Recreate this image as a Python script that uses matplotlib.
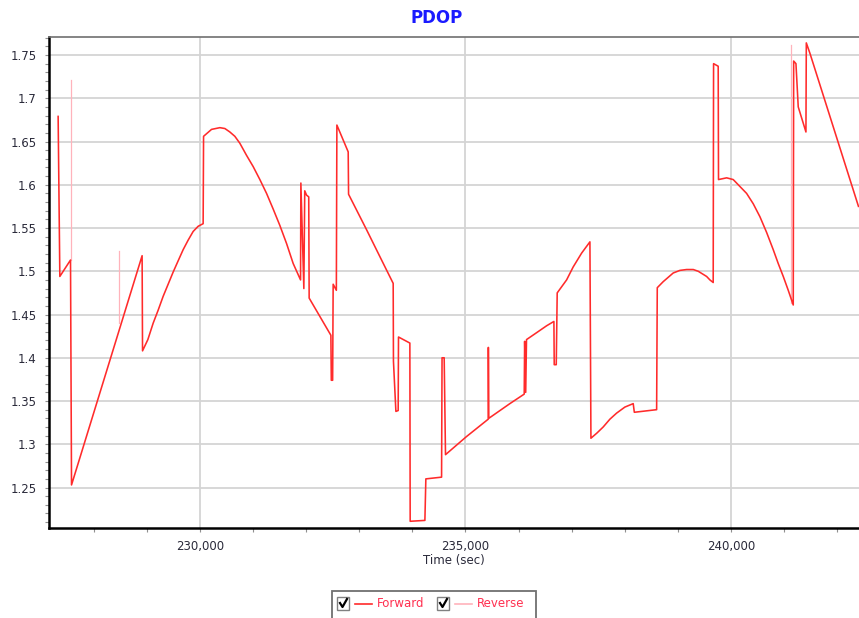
import numpy as np
import matplotlib.pyplot as plt
from matplotlib.ticker import MultipleLocator, FuncFormatter
from matplotlib.lines import Line2D
from matplotlib.patches import Rectangle

# forward solution PDOP
fwd_t = [227332, 227364, 227565, 227584, 228913, 228921, 229021, 229121, 229215,
         229309, 229403, 229497, 229591, 229686, 229780, 229874, 229968, 230062,
         230070, 230220, 230377, 230471, 230565, 230659, 230753, 230879, 231004,
         231130, 231256, 231380, 231506, 231633, 231757, 231896, 231902, 231958,
         231975, 232009, 232050, 232058, 232467, 232475, 232500, 232510, 232570,
         232580, 232793, 232800, 233139, 233389, 233640, 233645, 233691, 233734,
         233740, 233954, 233960, 234237, 234255, 234551, 234560, 234600, 234625,
         235022, 235429, 235432, 235440, 235837, 236107, 236115, 236135, 236150,
         236340, 236529, 236666, 236672, 236710, 236728, 236905, 237029, 237188,
         237344, 237363, 237476, 237594, 237720, 237846, 238002, 238159, 238180,
         238600, 238612, 238724, 238912, 239038, 239165, 239290, 239383, 239541,
         239603, 239665, 239672, 239759, 239765, 239918, 240042, 240168, 240294,
         240419, 240545, 240670, 240795, 240889, 240984, 241078, 241172, 241180,
         241223, 241266, 241411, 241418, 241486, 242400]
fwd_v = [1.679, 1.494, 1.513, 1.253, 1.518, 1.408, 1.421, 1.440, 1.455,
         1.471, 1.485, 1.499, 1.512, 1.525, 1.536, 1.546, 1.552, 1.555,
         1.656, 1.664, 1.666, 1.665, 1.661, 1.656, 1.648, 1.634, 1.621,
         1.606, 1.590, 1.572, 1.553, 1.532, 1.509, 1.490, 1.602, 1.480,
         1.593, 1.588, 1.586, 1.469, 1.426, 1.374, 1.374, 1.485, 1.478,
         1.669, 1.638, 1.589, 1.548, 1.517, 1.486, 1.396, 1.338, 1.339,
         1.424, 1.417, 1.211, 1.212, 1.260, 1.262, 1.400, 1.400, 1.288,
         1.309, 1.329, 1.412, 1.330, 1.347, 1.358, 1.419, 1.360, 1.421,
         1.429, 1.437, 1.442, 1.392, 1.392, 1.475, 1.490, 1.505, 1.521,
         1.534, 1.307, 1.313, 1.320, 1.329, 1.336, 1.343, 1.347, 1.337,
         1.340, 1.481, 1.488, 1.498, 1.501, 1.502, 1.502, 1.500, 1.494,
         1.490, 1.487, 1.740, 1.737, 1.606, 1.608, 1.606, 1.598, 1.590,
         1.578, 1.563, 1.545, 1.525, 1.509, 1.494, 1.478, 1.461, 1.743,
         1.740, 1.690, 1.661, 1.764, 1.752, 1.575]

# reverse solution: only visible where it differs from forward
rev_t = [227565, 227565, np.nan, 228480, 228480, np.nan, 241123, 241123]
rev_v = [1.513, 1.721, np.nan, 1.440, 1.523, np.nan, 1.463, 1.762]

W, H = 859, 618
fig = plt.figure(figsize=(W / 100, H / 100), dpi=100)
ax = fig.add_axes([49 / W, 1 - 527.5 / H, 1 - 49 / W, (527.5 - 37) / H])

ax.plot(rev_t, rev_v, color='#ffb3bb', lw=0.9, zorder=2)
ax.plot(fwd_t, fwd_v, color='#ff2b2b', lw=1.15, zorder=3)

ax.set_xlim(227160, 242410)
ax.set_ylim(1.2038, 1.7708)
ax.xaxis.set_major_locator(MultipleLocator(5000))
ax.xaxis.set_minor_locator(MultipleLocator(1000))
ax.yaxis.set_major_locator(MultipleLocator(0.05))
ax.yaxis.set_minor_locator(MultipleLocator(0.01))
ax.xaxis.set_major_formatter(FuncFormatter(lambda v, p: f'{v:,.0f}'))
ax.yaxis.set_major_formatter(FuncFormatter(lambda v, p: f'{v:g}'))
ax.grid(True, which='major', color='#d4d4d4', lw=1.3, zorder=0)
ax.set_axisbelow(True)
ax.tick_params(which='both', direction='out', color='#909090', length=3,
               width=0.8, labelsize=8.5, labelcolor='#2a2a3a')
ax.tick_params(axis='y', pad=6)
ax.tick_params(axis='x', pad=6)

for s in ['left', 'bottom']:
    ax.spines[s].set_color('black')
    ax.spines[s].set_linewidth(1.8)
ax.spines['top'].set_color('#707070')
ax.spines['top'].set_linewidth(1.2)
ax.spines['right'].set_visible(False)

ax.set_xlabel('Time (sec)', fontsize=8.5, color='#2a2a3a', labelpad=1)
fig.text(437 / W, 1 - 18 / H, 'PDOP', ha='center', va='center',
         fontsize=12, fontweight='bold', color='#1a1aff')

# legend box with checkboxes, drawn in figure pixels
def fx(x):
    return x / W

def fy(y):
    return 1 - y / H

fig.add_artist(Rectangle((fx(332), fy(622)), fx(536) - fx(332), fy(591) - fy(622),
                         transform=fig.transFigure, facecolor='white',
                         edgecolor='#707070', lw=1.3))
for cx, lc, name, tx in [(337, '#ff2b2b', 'Forward', 377), (437, '#ffb3bb', 'Reverse', 477)]:
    fig.add_artist(Rectangle((fx(cx), fy(610)), fx(cx + 12) - fx(cx), fy(597) - fy(610),
                             transform=fig.transFigure, facecolor='white',
                             edgecolor='#808080', lw=1.0))
    fig.add_artist(Line2D([fx(cx + 3), fx(cx + 5.5), fx(cx + 10)],
                          [fy(603), fy(607), fy(599)], transform=fig.transFigure,
                          color='black', lw=1.6))
    fig.add_artist(Line2D([fx(cx + 18), fx(cx + 35)], [fy(603.5), fy(603.5)],
                          transform=fig.transFigure, color=lc, lw=1.2))
    fig.text(fx(tx), fy(603.5), name, ha='left', va='center', fontsize=8.5,
             color='#ff3050')

fig.savefig('out.png', dpi=100)
